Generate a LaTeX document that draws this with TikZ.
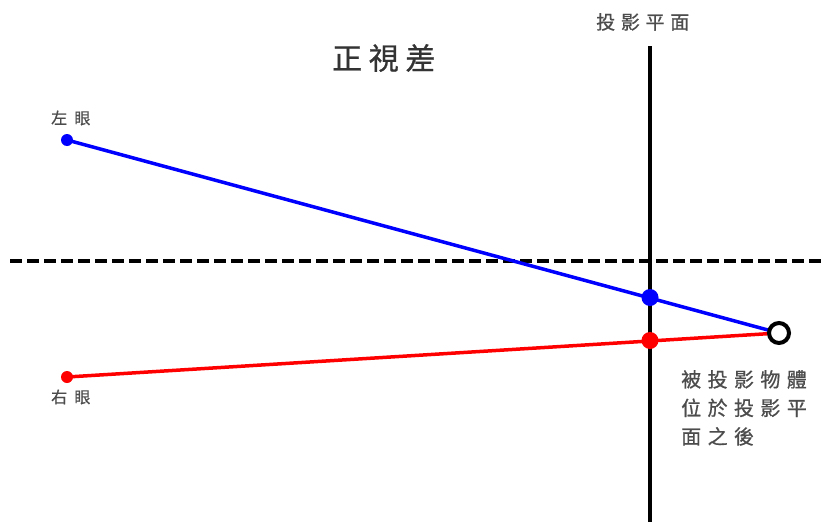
\documentclass[tikz,border=0pt]{standalone}
\usepackage{fontspec}
\newfontfamily\cjkplane[LetterSpace=30,FakeBold=0.8]{Noto Sans CJK TC}
\newfontfamily\cjktitle[LetterSpace=22,FakeBold=0.8]{Noto Sans CJK TC}
\newfontfamily\cjkeye[LetterSpace=45,FakeBold=0.8]{Noto Sans CJK TC}
\newfontfamily\cjkdesc[LetterSpace=32,FakeBold=0.8]{Noto Sans CJK TC}
\begin{document}
\begin{tikzpicture}[x=1pt,y=-1pt,
  lbl/.style={text=black!70, inner sep=0pt, anchor=west},
  ray/.style={line width=3.5pt},
  eyedot/.style={circle, inner sep=0pt, minimum size=12pt},
  hitdot/.style={circle, inner sep=0pt, minimum size=17pt}]
\useasboundingbox (0,0) rectangle (821,522);
% projection plane
\coordinate (pt) at (650,46);
\coordinate (pb) at (650,522);
\draw[line width=4pt] (pt) -- (pb);
\node[lbl, font=\cjkplane\fontsize{19}{22}\selectfont] (plane) at (596,22) {投影平面};
% title
\node[lbl, text=black!80, font=\cjktitle\fontsize{30}{34}\selectfont] (title) at (332,58) {正視差};
% dashed line
\coordinate (dl) at (10,261);
\coordinate (dr) at (821,261);
\draw[line width=4pt, dash pattern=on 12pt off 5pt] (dl) -- (dr);
% eyes
\coordinate (L) at (67,140);
\coordinate (R) at (67,377);
\coordinate (O) at (779,333);
\draw[ray, blue] (L) -- (O);
\draw[ray, red] (R) -- (O);
\node[eyedot, fill=blue] (Ld) at (L) {};
\node[eyedot, fill=red] (Rd) at (R) {};
\node[hitdot, fill=blue] (Lh) at (650,297.5) {};
\node[hitdot, fill=red] (Rh) at (650,340.5) {};
\node[circle, draw=black, line width=4pt, fill=white, minimum size=20pt, inner sep=0pt] (obj) at (O) {};
\node[lbl, font=\cjkeye\fontsize{16}{18}\selectfont] (lt) at (51,118) {左眼};
\node[lbl, font=\cjkeye\fontsize{16}{18}\selectfont] (rt) at (51,397) {右眼};
\node[lbl, anchor=north west, align=left, font=\cjkdesc\fontsize{20}{28.5}\selectfont] (desc) at (681,370) {被投影物體\\位於投影平\\面之後};
\end{tikzpicture}
\end{document}
